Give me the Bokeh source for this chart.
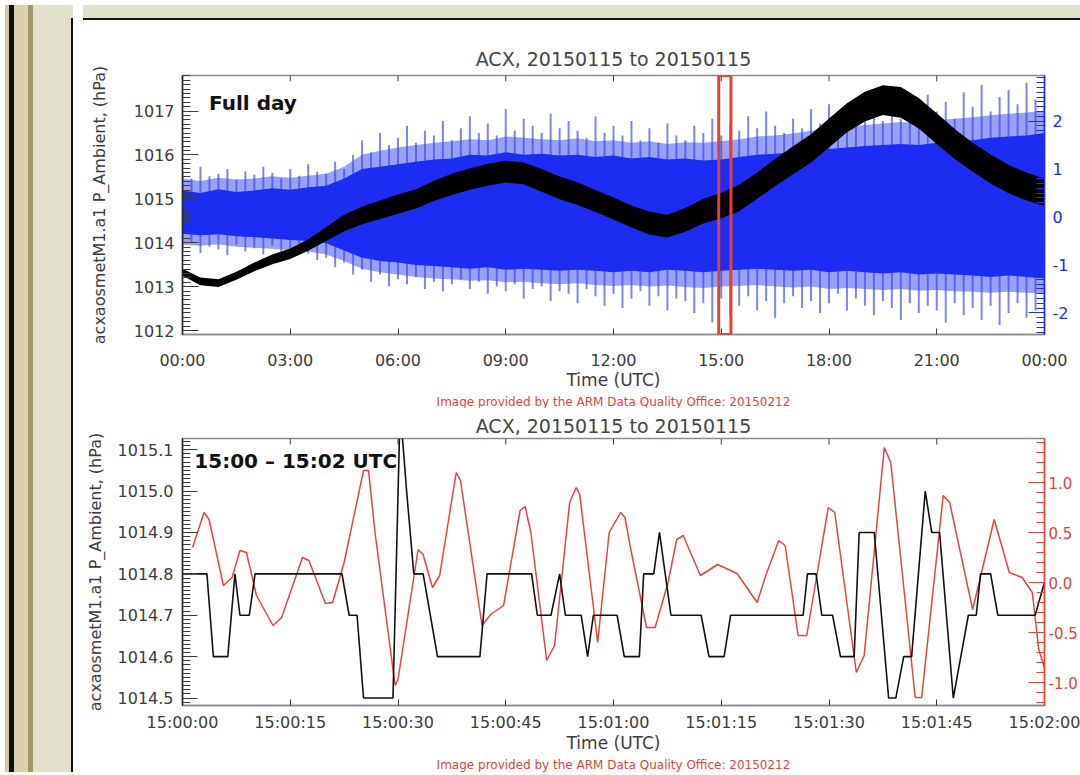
import numpy as np
from bokeh.plotting import figure
from bokeh.models import (Range1d, LinearAxis, FixedTicker, PrintfTickFormatter,
                          Label, BoxAnnotation, Title, Div)
from bokeh.layouts import row, column
from bokeh.embed import file_html
from bokeh.resources import INLINE

# ------------------------------------------------------------------ data
day_ticks = [0, 3, 6, 9, 12, 15, 18, 21, 24]
day_tick_labels = ["00:00", "03:00", "06:00", "09:00", "12:00", "15:00", "18:00", "21:00", "00:00"]
zoom_ticks = [0, 15, 30, 45, 60, 75, 90, 105, 120]
zoom_tick_labels = ["15:00:00", "15:00:15", "15:00:30", "15:00:45", "15:01:00",
                    "15:01:15", "15:01:30", "15:01:45", "15:02:00"]

# full day, half-hourly (hours UTC)
half_hours = [i * 0.5 for i in range(49)]
pressure_day = [1013.33, 1013.12, 1013.08, 1013.25, 1013.45, 1013.62, 1013.75, 1013.95,
                1014.20, 1014.45, 1014.62, 1014.75, 1014.88, 1015.00, 1015.18, 1015.33,
                1015.45, 1015.55, 1015.62, 1015.58, 1015.42, 1015.25, 1015.12, 1014.95,
                1014.78, 1014.60, 1014.45, 1014.38, 1014.52, 1014.72, 1014.85, 1015.02,
                1015.30, 1015.60, 1015.88, 1016.15, 1016.50, 1016.85, 1017.10, 1017.25,
                1017.20, 1016.95, 1016.60, 1016.25, 1015.95, 1015.68, 1015.45, 1015.28,
                1015.15]
pressure_spread = [0.08, 0.09, 0.09, 0.09, 0.10, 0.11, 0.12, 0.13, 0.16, 0.19, 0.20, 0.21,
                   0.22, 0.22, 0.23, 0.24, 0.24, 0.25, 0.25, 0.25, 0.26, 0.26, 0.26, 0.25,
                   0.25, 0.25, 0.26, 0.26, 0.27, 0.28, 0.29, 0.30, 0.30, 0.31, 0.32, 0.32,
                   0.33, 0.33, 0.34, 0.34, 0.35, 0.35, 0.35, 0.34, 0.33, 0.33, 0.32, 0.32,
                   0.31]
blue_core_hi = [0.55, 0.50, 0.58, 0.52, 0.55, 0.60, 0.57, 0.62, 0.65, 0.80, 1.00, 1.05,
                1.10, 1.15, 1.20, 1.22, 1.30, 1.28, 1.35, 1.30, 1.32, 1.28, 1.30, 1.25,
                1.28, 1.22, 1.25, 1.20, 1.22, 1.18, 1.20, 1.25, 1.30, 1.32, 1.35, 1.40,
                1.42, 1.45, 1.48, 1.50, 1.52, 1.50, 1.55, 1.58, 1.60, 1.65, 1.68, 1.70,
                1.75]
blue_core_lo = [-0.35, -0.38, -0.36, -0.40, -0.42, -0.45, -0.48, -0.50, -0.55, -0.70, -0.85, -0.92,
                -0.95, -1.00, -1.02, -1.05, -1.08, -1.05, -1.10, -1.08, -1.10, -1.12, -1.10, -1.12,
                -1.15, -1.12, -1.15, -1.10, -1.12, -1.15, -1.12, -1.10, -1.08, -1.10, -1.12, -1.10,
                -1.15, -1.12, -1.15, -1.18, -1.15, -1.20, -1.18, -1.20, -1.22, -1.25, -1.22, -1.25,
                -1.28]
# half-hourly outer edge of the dense, lighter fringe of the blue series
blue_fringe_hi = [0.80, 0.75, 0.82, 0.78, 0.80, 0.85, 0.82, 0.86, 0.90, 1.05, 1.30, 1.38,
                  1.45, 1.50, 1.55, 1.58, 1.62, 1.60, 1.68, 1.65, 1.62, 1.60, 1.64, 1.58,
                  1.60, 1.55, 1.58, 1.52, 1.56, 1.55, 1.58, 1.62, 1.68, 1.70, 1.74, 1.80,
                  1.82, 1.88, 1.92, 1.95, 1.98, 1.96, 2.02, 2.05, 2.08, 2.12, 2.15, 2.18,
                  2.22]
blue_fringe_lo = [-0.58, -0.60, -0.57, -0.62, -0.64, -0.66, -0.70, -0.72, -0.78, -0.92, -1.08, -1.15,
                  -1.20, -1.25, -1.28, -1.30, -1.33, -1.32, -1.36, -1.35, -1.38, -1.40, -1.38, -1.42,
                  -1.44, -1.42, -1.45, -1.43, -1.46, -1.48, -1.45, -1.44, -1.42, -1.45, -1.47, -1.45,
                  -1.50, -1.48, -1.50, -1.52, -1.50, -1.54, -1.52, -1.55, -1.56, -1.58, -1.56, -1.58,
                  -1.60]
# quarter-hourly extreme spikes of the blue series (right axis)
quarter_hours = [i * 0.25 for i in range(97)]
blue_spike_hi = [0.95, 0.80, 1.05, 0.85, 0.90, 1.00, 0.78, 0.95, 0.88, 1.05, 0.92, 0.80,
                 1.00, 0.86, 1.10, 0.95, 0.90, 1.15, 1.00, 1.30, 1.60, 1.35, 1.75, 1.50,
                 1.65, 1.90, 1.55, 1.80, 1.70, 2.00, 1.60, 1.85, 2.10, 1.75, 1.95, 1.70,
                 2.25, 1.80, 2.05, 1.90, 1.75, 2.15, 1.85, 2.00, 1.80, 1.65, 2.10, 1.75,
                 1.90, 1.70, 2.00, 1.60, 1.85, 1.55, 1.95, 1.70, 1.60, 1.90, 1.75, 2.05,
                 1.70, 1.95, 1.80, 2.10, 1.85, 2.20, 1.90, 1.75, 2.05, 1.85, 2.25, 1.95,
                 2.35, 2.00, 2.20, 1.90, 2.15, 2.45, 2.00, 2.30, 2.05, 2.35, 2.10, 2.55,
                 2.20, 2.40, 2.05, 2.60, 2.30, 2.75, 2.20, 2.50, 2.65, 2.35, 2.80, 2.45,
                 2.55]
blue_spike_lo = [-0.70, -0.55, -0.75, -0.62, -0.68, -0.80, -0.58, -0.72, -0.65, -0.78, -0.60, -0.74,
                 -0.82, -0.66, -0.76, -0.90, -0.85, -1.05, -0.95, -1.20, -1.10, -1.35, -1.20, -1.45,
                 -1.30, -1.40, -1.25, -1.50, -1.35, -1.55, -1.40, -1.30, -1.50, -1.35, -1.60, -1.45,
                 -1.55, -1.40, -1.70, -1.50, -1.45, -1.75, -1.55, -1.60, -1.80, -1.50, -1.65, -1.85,
                 -1.60, -1.90, -1.70, -1.55, -1.85, -1.65, -1.95, -1.70, -1.75, -2.00, -1.80, -2.20,
                 -1.70, -2.05, -1.85, -1.65, -1.95, -1.75, -2.10, -1.80, -1.65, -1.90, -1.75, -2.00,
                 -1.80, -1.60, -1.95, -1.70, -1.85, -2.05, -1.75, -1.90, -2.15, -1.80, -2.00, -1.85,
                 -1.95, -2.20, -1.80, -2.05, -1.90, -2.15, -1.85, -2.25, -2.00, -1.80, -2.10, -1.95,
                 -1.90]

# 15:00 - 15:02 UTC (seconds after 15:00:00)
zoom_black_t = [0, 3.4, 4.3, 6.3, 7.3, 8.0, 9.3, 10.1, 22.2, 23.2, 24.3, 25.2, 29.3, 30.3,
                31.2, 32.2, 33.5, 35.5, 41.4, 42.4, 48.6, 49.4, 51.3, 52.5, 53.3, 55.5,
                56.4, 57.2, 60.5, 61.5, 63.6, 64.2, 65.6, 66.4, 67.2, 68.0, 72.2, 73.3,
                75.4, 76.3, 86.4, 87.0, 88.2, 89.0, 90.5, 91.6, 93.5, 94.2, 96.3, 98.3,
                99.3, 100.4, 101.5, 103.4, 104.3, 105.4, 107.3, 109.4, 110.5, 111.1, 112.5,
                113.5, 118.7, 120]
zoom_black_p = [1014.8, 1014.8, 1014.6, 1014.6, 1014.8, 1014.7, 1014.7, 1014.8, 1014.8, 1014.7,
                1014.7, 1014.5, 1014.5, 1015.2, 1015.0, 1014.8, 1014.8, 1014.6, 1014.6, 1014.8,
                1014.8, 1014.7, 1014.7, 1014.8, 1014.7, 1014.7, 1014.6, 1014.7, 1014.7, 1014.6,
                1014.6, 1014.8, 1014.8, 1014.9, 1014.8, 1014.7, 1014.7, 1014.6, 1014.6, 1014.7,
                1014.7, 1014.8, 1014.8, 1014.7, 1014.7, 1014.6, 1014.6, 1014.9, 1014.9, 1014.5,
                1014.5, 1014.6, 1014.6, 1015.0, 1014.9, 1014.9, 1014.5, 1014.7, 1014.7, 1014.8,
                1014.8, 1014.7, 1014.7, 1014.78]
zoom_red_t = [1.4, 3.0, 3.7, 5.7, 6.9, 8.0, 8.9, 10.3, 12.6, 13.8, 16.7, 17.6, 19.9, 20.9,
              22.5, 25.2, 25.9, 26.8, 29.6, 30.0, 32.8, 33.5, 34.8, 35.8, 38.1, 38.7, 41.7,
              42.9, 44.7, 47.0, 47.7, 48.5, 50.7, 51.8, 53.9, 54.8, 55.3, 57.8, 59.4, 61.0,
              61.6, 62.3, 64.6, 65.8, 67.6, 68.8, 69.7, 72.1, 74.5, 77.2, 80.0, 81.2, 83.0,
              83.9, 85.7, 86.9, 89.9, 90.8, 93.8, 94.9, 97.7, 98.6, 102.0, 102.9, 105.9,
              106.8, 110.0, 113.0, 115.1, 116.9, 118.3, 119.2, 120.0]
zoom_red_v = [0.35, 0.70, 0.63, -0.03, 0.05, 0.32, 0.30, -0.13, -0.43, -0.35, 0.25, 0.22,
              -0.21, -0.20, 0.20, 1.12, 1.12, 0.50, -1.03, -0.97, 0.33, 0.28, -0.05, 0.07,
              1.10, 1.02, -0.43, -0.32, -0.23, 0.72, 0.76, 0.50, -0.78, -0.63, 0.80, 0.95,
              0.88, -0.60, 0.50, 0.70, 0.65, 0.37, -0.45, -0.45, 0.00, 0.43, 0.47, 0.07,
              0.18, 0.09, -0.20, 0.07, 0.42, 0.37, -0.53, -0.53, 0.75, 0.70, -0.90, -0.73,
              1.35, 1.20, -1.15, -1.15, 0.87, 0.80, -0.27, 0.63, 0.10, 0.05, -0.10, -0.67,
              -0.85]

# ------------------------------------------------------------------ style
FONT = "DejaVu Sans"
TXT = "#3c3c3c"
BLUE = "#1c2cf2"
BLUE_LIGHT = "#6a78f2"
RED = "#e5453c"
FRAME = "#8a8a8a"
CREDIT = "Image provided by the ARM Data Quality Office: 20150212"
TITLE = "ACX, 20150115 to 20150115"
YLABEL = "acxaosmetM1.a1 P_Ambient, (hPa)"


def style_axis(ax, color=TXT, line=TXT, size="16px"):
    ax.major_tick_out = 0
    ax.minor_tick_out = 0
    ax.axis_line_color = line
    ax.axis_line_width = 1.5
    ax.major_tick_line_color = color
    ax.minor_tick_line_color = color
    ax.major_label_text_font = FONT
    ax.major_label_text_font_size = size
    ax.major_label_text_color = color
    ax.axis_label_text_font = FONT
    ax.axis_label_text_font_style = "normal"
    ax.axis_label_text_color = TXT


def make_plot(width, height, borders, frame_h, xr, yr, yr2, title_standoff):
    p = figure(width=width, height=height, x_range=xr, y_range=yr,
               output_backend="svg", toolbar_location=None,
               x_axis_type=None, y_axis_type=None,
               min_border_left=borders[0], min_border_right=borders[1],
               min_border_top=borders[2], min_border_bottom=borders[3],
               background_fill_color="white", border_fill_color="white",
               outline_line_color=FRAME, outline_line_width=1.5)
    # "right" = secondary series axis, "px" = pixel-like range for top-edge tick marks
    p.extra_y_ranges = {"right": yr2, "px": Range1d(0, frame_h)}
    p.title.text = TITLE
    p.title.align = "center"
    p.title.text_font = FONT
    p.title.text_font_style = "normal"
    p.title.text_font_size = "19px"
    p.title.text_color = "#454545"
    p.title.standoff = title_standoff
    return p


def add_x_axes(p, ticks, labels, standoff, label_standoff, frame_h):
    xb = LinearAxis(ticker=FixedTicker(ticks=ticks), axis_label="Time (UTC)",
                    major_label_overrides=dict(zip(ticks, labels)))
    style_axis(xb, line=FRAME)
    xb.major_tick_in = 6
    xb.major_label_standoff = standoff
    xb.axis_label_standoff = label_standoff
    xb.axis_label_text_font_size = "17px"
    p.add_layout(xb, "below")
    # inward tick marks along the top edge of the frame
    p.segment(x0=ticks, x1=ticks, y0=[frame_h - 6] * len(ticks), y1=[frame_h] * len(ticks),
              y_range_name="px", line_color=TXT, line_width=1)
    credit = Title(text=CREDIT, align="center", text_font=FONT, text_font_size="12px",
                   text_font_style="normal", text_color="#d9473f", standoff=0)
    p.add_layout(credit, "below")


# ------------------------------------------------------------------ top plot (full day)
p1 = make_plot(1004, 383, (102, 27, 50, 67), 266, Range1d(0, 24), Range1d(1011.91, 1017.81),
               Range1d(-2.45, 2.95), 11)

yl = LinearAxis(ticker=FixedTicker(ticks=[1012, 1013, 1014, 1015, 1016, 1017],
                                   minor_ticks=list(np.round(np.arange(1011.9, 1017.85, 0.1), 2))),
                axis_label=YLABEL)
style_axis(yl, line="#222222")
yl.major_tick_in = 16
yl.minor_tick_in = 8
yl.major_label_standoff = 8
yl.axis_label_standoff = 22
yl.axis_label_text_font_size = "16px"
p1.add_layout(yl, "left")

yr = LinearAxis(y_range_name="right",
                ticker=FixedTicker(ticks=[-2, -1, 0, 1, 2],
                                   minor_ticks=list(np.round(np.arange(-2.4, 2.95, 0.1), 2))),
                formatter=PrintfTickFormatter(format="%d"))
style_axis(yr, color=BLUE, line=BLUE)
yr.major_tick_in = 16
yr.minor_tick_in = 8
yr.major_label_standoff = 8
p1.add_layout(yr, "right")

p1.segment(x0=quarter_hours, y0=[0] * len(quarter_hours), x1=quarter_hours, y1=blue_spike_hi,
           y_range_name="right", line_color=BLUE_LIGHT, line_width=2, line_alpha=0.9)
p1.segment(x0=quarter_hours, y0=[0] * len(quarter_hours), x1=quarter_hours, y1=blue_spike_lo,
           y_range_name="right", line_color=BLUE_LIGHT, line_width=2, line_alpha=0.9)
p1.varea(x=half_hours, y1=blue_fringe_lo, y2=blue_fringe_hi, y_range_name="right",
         fill_color="#3344f0", fill_alpha=0.5)
p1.varea(x=half_hours, y1=blue_core_lo, y2=blue_core_hi, y_range_name="right",
         fill_color=BLUE)
p_lo = [c - s for c, s in zip(pressure_day, pressure_spread)]
p_hi = [c + s for c, s in zip(pressure_day, pressure_spread)]
p1.varea(x=half_hours, y1=p_lo, y2=p_hi, fill_color="black")
p1.line(x=half_hours, y=pressure_day, line_color="black", line_width=2)

add_x_axes(p1, day_ticks, day_tick_labels, 16, -3, 266)

p1.add_layout(BoxAnnotation(left=14.93, right=15.27, fill_alpha=0, line_alpha=1,
                            line_color="#e8402c", line_width=3))
p1.add_layout(Label(x=0.74, y=1017.18, text="Full day", text_font=FONT,
                    text_font_style="bold", text_font_size="20px", text_color="#111111",
                    text_baseline="middle", text_align="left"))

# ------------------------------------------------------------------ bottom plot (2 minutes)
p2 = make_plot(1004, 369, (104, 38, 30, 72), 267, Range1d(0, 120), Range1d(1014.482, 1015.127),
               Range1d(-1.23, 1.44), 3)

yl2 = LinearAxis(ticker=FixedTicker(ticks=[1014.5, 1014.6, 1014.7, 1014.8, 1014.9, 1015.0, 1015.1],
                                    minor_ticks=list(np.round(np.arange(1014.49, 1015.13, 0.01), 3))),
                 formatter=PrintfTickFormatter(format="%.1f"), axis_label=YLABEL)
style_axis(yl2, line="#222222")
yl2.major_tick_in = 15
yl2.minor_tick_in = 8
yl2.major_label_standoff = 9
yl2.axis_label_standoff = 10
yl2.axis_label_text_font_size = "16px"
p2.add_layout(yl2, "left")

yr2 = LinearAxis(y_range_name="right",
                 ticker=FixedTicker(ticks=[-1.0, -0.5, 0.0, 0.5, 1.0],
                                    minor_ticks=list(np.round(np.arange(-1.2, 1.45, 0.1), 2))),
                 formatter=PrintfTickFormatter(format="%.1f"))
style_axis(yr2, color=RED, line=RED, size="15px")
yr2.major_tick_in = 16
yr2.minor_tick_in = 8
yr2.major_label_standoff = 4
p2.add_layout(yr2, "right")

p2.line(x=zoom_red_t, y=zoom_red_v, y_range_name="right", line_color=RED, line_width=1.5)
p2.line(x=zoom_black_t, y=zoom_black_p, line_color="#111111", line_width=1.6)

add_x_axes(p2, zoom_ticks, zoom_tick_labels, 7, -2, 267)

p2.add_layout(Label(x=1.65, y=1015.072, text="15:00 \u2013 15:02 UTC", text_font=FONT,
                    text_font_style="bold", text_font_size="20px", text_color="#111111",
                    text_baseline="middle", text_align="left"))

# ------------------------------------------------------------------ slide decoration + layout
left_div = Div(text=(
    '<div style="width:68px;height:767px;'
    'background:linear-gradient(#e2dfcb 13px,#111 13px) right top/2px 100% no-repeat,'
    'linear-gradient(to right,#d3c9a0 0 4px,#0d0d0d 4px 9px,#d9d1ad 9px 23px,'
    '#a39669 23px 28px,#e2dfcb 28px 66px);"></div>'), width=68, height=767)
top_div = Div(text=('<div style="width:1004px;height:15px;'
                    'background:linear-gradient(#e2dfcb 13px,#111 13px);"></div>'),
              width=1004, height=15)

layout = row(left_div, column(top_div, p1, p2))
open("out.html", "w").write(file_html(layout, INLINE))
